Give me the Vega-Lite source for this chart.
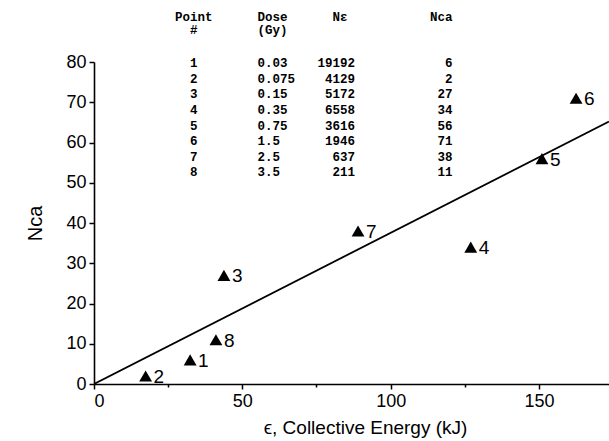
{
  "$schema": "https://vega.github.io/schema/vega-lite/v6.json",
  "autosize": {"type": "none"},
  "padding": {"left": 94, "top": 62, "right": 0, "bottom": 57},
  "width": 515,
  "height": 322,
  "background": "white",
  "title": {
    "text": [
      "Point\u00a0\u00a0\u00a0\u00a0\u00a0\u00a0Dose\u00a0\u00a0\u00a0\u00a0\u00a0\u00a0N\u03b5\u00a0\u00a0\u00a0\u00a0\u00a0\u00a0\u00a0\u00a0\u00a0\u00a0\u00a0Nca",
      "\u200b\u00a0\u00a0#\u00a0\u00a0\u00a0\u00a0\u00a0\u00a0\u00a0\u00a0(Gy)"
    ],
    "subtitle": [
      "\u200b\u00a0\u00a01\u00a0\u00a0\u00a0\u00a0\u00a0\u00a0\u00a0\u00a00.03\u00a0\u00a0\u00a0\u00a019192\u00a0\u00a0\u00a0\u00a0\u00a0\u00a0\u00a0\u00a0\u00a0\u00a0\u00a0\u00a06",
      "\u200b\u00a0\u00a02\u00a0\u00a0\u00a0\u00a0\u00a0\u00a0\u00a0\u00a00.075\u00a0\u00a0\u00a0\u00a04129\u00a0\u00a0\u00a0\u00a0\u00a0\u00a0\u00a0\u00a0\u00a0\u00a0\u00a0\u00a02",
      "\u200b\u00a0\u00a03\u00a0\u00a0\u00a0\u00a0\u00a0\u00a0\u00a0\u00a00.15\u00a0\u00a0\u00a0\u00a0\u00a05172\u00a0\u00a0\u00a0\u00a0\u00a0\u00a0\u00a0\u00a0\u00a0\u00a0\u00a027",
      "\u200b\u00a0\u00a04\u00a0\u00a0\u00a0\u00a0\u00a0\u00a0\u00a0\u00a00.35\u00a0\u00a0\u00a0\u00a0\u00a06558\u00a0\u00a0\u00a0\u00a0\u00a0\u00a0\u00a0\u00a0\u00a0\u00a0\u00a034",
      "\u200b\u00a0\u00a05\u00a0\u00a0\u00a0\u00a0\u00a0\u00a0\u00a0\u00a00.75\u00a0\u00a0\u00a0\u00a0\u00a03616\u00a0\u00a0\u00a0\u00a0\u00a0\u00a0\u00a0\u00a0\u00a0\u00a0\u00a056",
      "\u200b\u00a0\u00a06\u00a0\u00a0\u00a0\u00a0\u00a0\u00a0\u00a0\u00a01.5\u00a0\u00a0\u00a0\u00a0\u00a0\u00a01946\u00a0\u00a0\u00a0\u00a0\u00a0\u00a0\u00a0\u00a0\u00a0\u00a0\u00a071",
      "\u200b\u00a0\u00a07\u00a0\u00a0\u00a0\u00a0\u00a0\u00a0\u00a0\u00a02.5\u00a0\u00a0\u00a0\u00a0\u00a0\u00a0\u00a0637\u00a0\u00a0\u00a0\u00a0\u00a0\u00a0\u00a0\u00a0\u00a0\u00a0\u00a038",
      "\u200b\u00a0\u00a08\u00a0\u00a0\u00a0\u00a0\u00a0\u00a0\u00a0\u00a03.5\u00a0\u00a0\u00a0\u00a0\u00a0\u00a0\u00a0211\u00a0\u00a0\u00a0\u00a0\u00a0\u00a0\u00a0\u00a0\u00a0\u00a0\u00a011"
    ],
    "orient": "top",
    "anchor": "start",
    "frame": "group",
    "dx": 81,
    "offset": -126,
    "font": "Liberation Mono",
    "fontSize": 12.5,
    "fontWeight": "bold",
    "lineHeight": 13,
    "color": "black",
    "subtitleFont": "Liberation Mono",
    "subtitleFontSize": 12.5,
    "subtitleFontWeight": "bold",
    "subtitleLineHeight": 15.6,
    "subtitleColor": "black",
    "subtitlePadding": 21
  },
  "layer": [
    {
      "data": {"values": [{"E": 0, "Nca": 0}, {"E": 173.6, "Nca": 65.2}]},
      "mark": {"type": "line", "color": "black", "strokeWidth": 1.8, "clip": true},
      "encoding": {
        "x": {"field": "E", "type": "quantitative", "scale": {"domain": [0, 173.6], "nice": false, "zero": true},
          "axis": {"orient": "bottom", "values": [25, 75, 125], "labels": false, "domain": false, "grid": false, "ticks": true, "tickSize": 3, "tickWidth": 1.5, "tickColor": "black", "title": null}},
        "y": {"field": "Nca", "type": "quantitative", "scale": {"domain": [0, 80], "nice": false}, "axis": null}
      }
    },
    {
      "data": {"name": "pts", "values": [
        {"Point": "1", "E": 32.4, "Nca": 6},
        {"Point": "2", "E": 17.4, "Nca": 2},
        {"Point": "3", "E": 43.8, "Nca": 27},
        {"Point": "4", "E": 127, "Nca": 34},
        {"Point": "5", "E": 151, "Nca": 56},
        {"Point": "6", "E": 162.5, "Nca": 71},
        {"Point": "7", "E": 89, "Nca": 38},
        {"Point": "8", "E": 41.1, "Nca": 11}
      ]},
      "mark": {"type": "point", "shape": "triangle-up", "filled": true, "color": "black", "opacity": 1, "size": 165},
      "encoding": {
        "x": {"field": "E", "type": "quantitative",
          "axis": {"orient": "bottom", "values": [0, 50, 100, 150], "grid": false, "domainColor": "black", "domainWidth": 1.6, "tickColor": "black", "tickWidth": 1.5, "tickSize": 5,
            "labelFont": "Liberation Sans", "labelFontSize": 18, "labelColor": "black", "labelPadding": 3,
            "title": "\u03f5, Collective Energy (kJ)", "titleFont": "Liberation Sans", "titleFontSize": 19, "titleFontWeight": "normal", "titleColor": "black", "titleX": 271, "titleAlign": "center", "titlePadding": 8}},
        "y": {"field": "Nca", "type": "quantitative",
          "axis": {"orient": "left", "values": [0, 10, 20, 30, 40, 50, 60, 70, 80], "grid": false, "domainColor": "black", "domainWidth": 1.6, "tickColor": "black", "tickWidth": 1.5, "tickSize": 5,
            "labelFont": "Liberation Sans", "labelFontSize": 18, "labelColor": "black", "labelPadding": 3,
            "title": "Nca", "titleFont": "Liberation Sans", "titleFontSize": 20, "titleFontWeight": "normal", "titleColor": "black", "titlePadding": 20}}
      }
    },
    {
      "data": {"name": "pts"},
      "mark": {"type": "text", "align": "left", "baseline": "middle", "dx": 8, "dy": 1, "font": "Liberation Sans", "fontSize": 19, "color": "black"},
      "encoding": {
        "x": {"field": "E", "type": "quantitative", "axis": null},
        "y": {"field": "Nca", "type": "quantitative", "axis": null},
        "text": {"field": "Point"}
      }
    }
  ],
  "resolve": {"axis": {"x": "independent", "y": "independent"}},
  "config": {"view": {"stroke": null}}
}
